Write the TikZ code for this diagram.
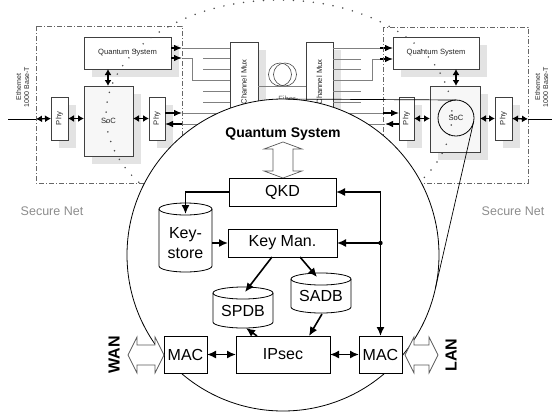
\documentclass[tikz,border=0pt]{standalone}
\usepackage{fontspec}
\usepackage{graphicx}
\setmainfont{Liberation Sans}
\usetikzlibrary{arrows.meta,backgrounds}
\newcommand{\mycyl}[5]{%
  \draw[bbox] (#1-#4,#2+#5) -- (#1-#4,#3-#5) arc[start angle=180,end angle=0,x radius=#4,y radius=#5] -- (#1+#4,#2+#5) arc[start angle=0,end angle=-180,x radius=#4,y radius=#5] -- cycle;
  \draw[line width=0.8pt] (#1-#4,#2+#5) arc[start angle=180,end angle=0,x radius=#4,y radius=#5];
}
\begin{document}
\begin{tikzpicture}[x=1pt,y=-1pt,
  every node/.style={inner sep=0pt,outer sep=0pt},
  sbox/.style={draw=black!75,line width=0.75pt,fill=white},
  shd/.style={fill=black!11},
  gline/.style={draw=black!50,line width=0.7pt},
  ddash/.style={draw=black!60,line width=0.6pt,dash pattern=on 5pt off 2pt on 1pt off 2pt},
  sdarr/.style={line width=1.4pt,{Latex[length=6pt,width=7pt]}-{Latex[length=6pt,width=7pt]}},
  sarr/.style={line width=1.2pt,-{Latex[length=8pt,width=6.5pt]}},
  stxt/.style={font=\fontsize{7.6}{9}\selectfont,text=black!85},
  btxt/.style={font=\fontsize{16}{20}\selectfont},
  bbox/.style={draw=black,line width=0.8pt,fill=white},
  marr/.style={line width=1.6pt,-{Latex[length=9pt,width=8pt]}},
  mdarr/.style={line width=1.6pt,{Latex[length=9pt,width=8pt]}-{Latex[length=9pt,width=8pt]}},
  hol/.style={draw=black!65,line width=0.7pt,fill=white,line join=miter},
]
\useasboundingbox (0,0) rectangle (552,413);

% ---------- small boxes (outer view) ----------
\node[sbox,minimum width=87pt,minimum height=32pt,stxt] (lqs) at (127.5,53) {Quantum System};
\node[sbox,fill=black!3,minimum width=49pt,minimum height=70pt,stxt] (lsoc) at (108.5,121) {SoC};
\node[sbox,minimum width=17pt,minimum height=43pt,stxt] (lphy1) at (59.5,118.5) {\rotatebox{90}{Phy}};
\node[sbox,minimum width=16pt,minimum height=43pt,stxt] (lphy2) at (157,118.5) {\rotatebox{90}{Phy}};
\node[sbox,minimum width=28pt,minimum height=98pt] (lmux) at (244,91) {};
\node[sbox,minimum width=27pt,minimum height=98pt] (rmux) at (319.5,91) {};
\node[sbox,minimum width=86pt,minimum height=32pt,stxt] (rqs) at (436,53) {Quantum System};
\node[sbox,fill=black!3,minimum width=50pt,minimum height=66pt] (rsoc) at (455,119) {};
\node[sbox,minimum width=15pt,minimum height=43pt,stxt] (rphy1) at (406.5,118.5) {\rotatebox{90}{Phy}};
\node[sbox,minimum width=17pt,minimum height=43pt,stxt] (rphy2) at (503.5,118.5) {\rotatebox{90}{Phy}};

% shadows
\begin{scope}[on background layer]
\foreach \n in {lqs,lsoc,lphy1,lphy2,lmux,rmux,rqs,rsoc,rphy1,rphy2}{
  \fill[shd] ([shift={(8pt,-8pt)}]\n.south west) rectangle ([shift={(8pt,-8pt)}]\n.north east);
}
\end{scope}

% mux texts
\node[stxt] (lmuxt) at (244,82) {\rotatebox{90}{Channel Mux}};
\node[stxt] (rmuxt) at (319.5,82) {\rotatebox{90}{Channel Mux}};

% gray channel lines, left
\coordinate (la1) at (182,48);
\coordinate (la2) at (182,58);
\coordinate (lb2) at (192,80);
\coordinate (la3) at (182,113);
\coordinate (la4) at (182,124);
\draw[gline] (la1) -- (la1 -| lmux.west);
\draw[gline] (la2) -| (lb2) -- (lb2 -| lmux.west);
\draw[gline] (la3) -- (la3 -| lmux.west);
\draw[gline] (la4) -- (la4 -| lmux.west);
\foreach \y in {58,69,91,102}{\draw[gline] (203,\y) -- (230,\y);}
\draw[sarr] (la1 -| lqs.east) -- (la1);
\draw[sarr] (la2 -| lqs.east) -- (la2);
\draw[sarr] (la3 -| lphy2.east) -- (la3);
\draw[sarr] (la4) -- (la4 -| lphy2.east);

% gray channel lines, right
\coordinate (ra1) at (380,48);
\coordinate (ra2) at (380,59);
\coordinate (rb2) at (372,80);
\coordinate (ra3) at (383,113);
\coordinate (ra4) at (385,124);
\draw[gline] (ra1 -| rmux.east) -- (ra1);
\draw[gline] (rb2 -| rmux.east) -- (rb2) |- (ra2);
\draw[gline] (ra3 -| rmux.east) -- (ra3);
\draw[gline] (ra4 -| rmux.east) -- (ra4);
\foreach \y in {59,69,91,102}{\draw[gline] (333,\y) -- (361,\y);}
\draw[sarr] (ra1) -- (ra1 -| rqs.west);
\draw[sarr] (ra2) -- (ra2 -| rqs.west);
\draw[sarr] (ra3) -- (ra3 -| rphy1.west);
\draw[sarr] (ra4 -| rphy1.west) -- (ra4);

% fiber
\coordinate (fib) at (283,86);
\draw[gline] (fib -| lmux.east) -- (fib -| rmux.west);
\draw[black!70,line width=0.6pt] (280,74.5) circle (11.5);
\draw[black!70,line width=0.6pt] (285,74.5) circle (11.5);
\node[stxt,text=black!60] (fibt) at (287,99) {Fiber};

% dash-dot secure areas
\draw[ddash] (36,26) rectangle (182,183);
\draw[ddash] (383,27) rectangle (528,183);

% small double arrows
\coordinate (lin) at (8,119);
\coordinate (ldb) at (36,119);
\coordinate (rin) at (552,119);
\coordinate (rdb) at (528,119);
\draw[line width=0.6pt] (lin) -- (ldb);
\draw[line width=0.6pt] (rdb) -- (rin);
\draw[sdarr] (ldb) -- (lphy1.west);
\draw[sdarr] (lphy1.east) -- (lsoc.west |- lphy1.east);
\draw[sdarr] (lsoc.east |- lphy2.west) -- (lphy2.west);
\draw[sdarr] (lqs.south -| 108,0) -- (108,86);
\draw[sdarr] (rphy1.east) -- (rsoc.west |- rphy1.east);
\draw[sdarr] (rsoc.east |- rphy2.west) -- (rphy2.west);
\draw[sdarr] (rphy2.east) -- (rdb);
\draw[sdarr] (456,69) -- (456,86);

% Ethernet labels
\node[font=\fontsize{7}{8}\selectfont,text=black!85,rotate=90,align=center] (leth) at (22.5,87) {Ethernet\\1000 Base-T};
\node[font=\fontsize{7}{8}\selectfont,text=black!85,rotate=90,align=center] (reth) at (541.5,87) {Ethernet\\1000 Base-T};

% dotted ellipse
\draw[black!70,line width=1.7pt,line cap=round,dash pattern=on 0pt off 10pt] (279,115) ellipse [x radius=173, y radius=115];

% secure net labels
\node[font=\fontsize{12.5}{14}\selectfont,text=black!45] (lsn) at (52,211) {Secure Net};
\node[font=\fontsize{12.5}{14}\selectfont,text=black!45] (rsn) at (513,211) {Secure Net};

% ---------- magnified circle ----------
\node[circle,draw=black,line width=0.8pt,fill=white,minimum size=312pt] (bigc) at (283,255) {};

% small zoom circle in right SoC
\node[circle,draw=black,line width=0.8pt,minimum size=36pt,stxt] (zoomc) at (456,118) {SoC};
\draw[line width=0.7pt] (bigc.89.7) -- (zoomc.90);
\draw[line width=0.7pt] (bigc.-12.9) -- (zoomc.-12.9);

\node[font=\bfseries\fontsize{14}{16}\selectfont] (qstitle) at (283,134) {Quantum System};
\draw[hol] (283,142) -- (302,149) -- (293,149) -- (293,171) -- (302,171) -- (283,178) -- (264,171) -- (273,171) -- (273,149) -- (264,149) -- cycle;

\node[bbox,btxt,minimum width=107pt,minimum height=28pt] (qkd) at (282.5,192) {QKD};
\node[bbox,btxt,minimum width=109pt,minimum height=28pt] (keyman) at (282.5,243) {Key Man.};
\node[bbox,btxt,minimum width=94pt,minimum height=37pt] (ipsec) at (283,354.5) {IPsec};
\node[bbox,btxt,minimum width=43pt,minimum height=37pt] (macl) at (185.5,354.5) {MAC};
\node[bbox,btxt,minimum width=43pt,minimum height=37pt] (macr) at (380.5,354.5) {MAC};

\mycyl{185.5}{203}{272}{26.5}{6}
\mycyl{243}{287}{328}{30}{6}
\mycyl{321}{273}{313}{30}{6}
\node[btxt,align=center] (ks) at (185.5,243) {Key-\\store};
\node[btxt] (spdb) at (243,311) {SPDB};
\node[btxt] (sadb) at (321,296) {SADB};

\coordinate (kstop) at (185.5,214);
\coordinate (ksright) at (212,243);
\coordinate (spdbtop) at (245,292);
\coordinate (spdbbot) at (246,328);
\coordinate (sadbtop) at (317,277);
\coordinate (sadbbot) at (322,314);
\coordinate (jn) at (380.5,243);

\draw[marr] (qkd.west) -| (kstop);
\draw[marr] (ksright) -- (keyman.west);
\draw[mdarr] (qkd.east) -| (macr.north);
\fill (jn) circle (2.2);
\draw[marr] (jn) -- (keyman.east);
\draw[marr] ([xshift=-10.5pt]keyman.south) -- (spdbtop);
\draw[marr] ([xshift=17.5pt]keyman.south) -- (sadbtop);
\draw[marr] (sadbbot) -- ([xshift=26pt]ipsec.north);
\draw[marr] ([xshift=-26pt]ipsec.north) -- (spdbbot);
\draw[mdarr] (macl.east) -- (ipsec.west);
\draw[mdarr] (ipsec.east) -- (macr.west);

% WAN / LAN hollow arrows
\draw[hol] (128,355) -- (137,337) -- (137,345) -- (155,345) -- (155,337) -- (164,355) -- (155,373) -- (155,365) -- (137,365) -- (137,373) -- cycle;
\draw[hol] (405,355) -- (414,337) -- (414,345) -- (429,345) -- (429,337) -- (438,355) -- (429,373) -- (429,365) -- (414,365) -- (414,373) -- cycle;
\node[font=\bfseries\fontsize{16}{18}\selectfont,rotate=90] (wan) at (114,355) {WAN};
\node[font=\bfseries\fontsize{16}{18}\selectfont,rotate=90] (lan) at (451,355) {LAN};
\end{tikzpicture}
\end{document}
